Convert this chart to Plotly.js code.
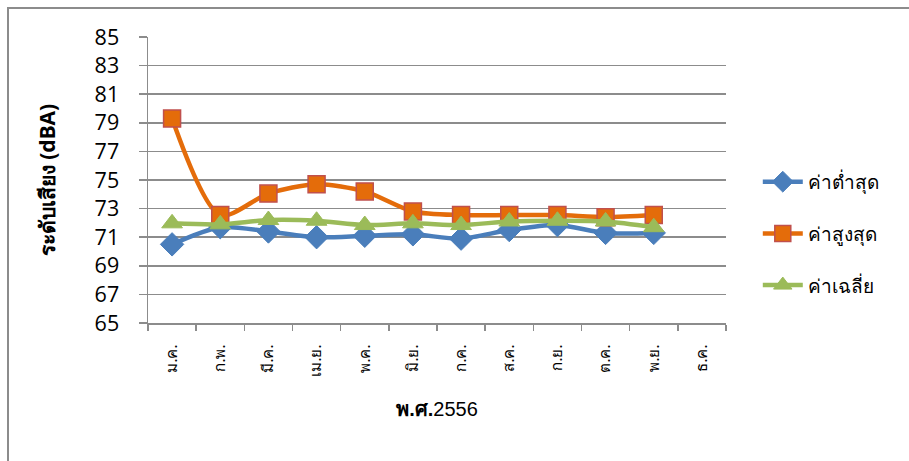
<!DOCTYPE html>
<html>
<head>
<meta charset="utf-8">
<script src="https://cdn.plot.ly/plotly-3.0.1.min.js"></script>
<style>
html,body{margin:0;padding:0;background:#fff;overflow:hidden;}
#frame{position:absolute;left:7px;top:7px;width:960px;height:520px;border:2px solid #8c8c8c;box-sizing:border-box;}
#chart{position:absolute;left:0;top:0;width:909px;height:461px;}
</style>
</head>
<body>
<div id="frame"></div>
<div id="chart"></div>
<script>
const months = ["ม.ค.","ก.พ.","มี.ค.","เม.ย.","พ.ค.","มิ.ย.","ก.ค.","ส.ค.","ก.ย.","ต.ค.","พ.ย.","ธ.ค."];
const minVals = [70.5, 71.7, 71.4, 71.0, 71.1, 71.2, 70.9, 71.5, 71.85, 71.3, 71.3, null];
const maxVals = [79.3, 72.55, 74.05, 74.7, 74.2, 72.8, 72.55, 72.55, 72.55, 72.4, 72.55, null];
const avgVals = [71.97, 71.9, 72.2, 72.15, 71.85, 71.97, 71.85, 72.1, 72.15, 72.1, 71.7, null];
const seriesNames = ["ค่าต่ำสุด","ค่าสูงสุด","ค่าเฉลี่ย"];
const yTitle = "<b>ระดับเสียง (dBA)</b>";
const xTitle = "<b>พ.ศ.</b>2556";

const traces = [
  {x: months, y: minVals, name: seriesNames[0], type:"scatter", mode:"lines+markers", legendgroup:"a",
   line:{color:"#4a7ebb", width:4.5, shape:"spline", smoothing:0.8},
   marker:{symbol:"diamond", size:18, color:"#4a7ebb", line:{color:"#4a7ebb", width:1}}},
  {x: months, y: maxVals, name: seriesNames[1], type:"scatter", mode:"lines+markers", legendgroup:"b",
   line:{color:"#e46c0a", width:4.5, shape:"spline", smoothing:0.8},
   marker:{symbol:"square", size:17, color:"#e46c0a", line:{color:"#c0504d", width:1.5}}},
  {x: months, y: avgVals, name: seriesNames[2], type:"scatter", mode:"lines+markers", legendgroup:"c",
   line:{color:"#9bbb59", width:4.5, shape:"spline", smoothing:0.8},
   marker:{symbol:"triangle-up", size:18, color:"#9bbb59", line:{color:"#9bbb59", width:1}}}
];

const layout = {
  width: 909, height: 461,
  paper_bgcolor: "rgba(0,0,0,0)", plot_bgcolor: "rgba(0,0,0,0)",
  margin: {l:148, r:183, t:37, b:138},
  showlegend: true,
  legend: {x:1.055, y:0.56, xanchor:"left", yanchor:"top", traceorder:"grouped", tracegroupgap:24,
           font:{family:"Noto Sans, Open Sans, sans-serif", size:19, color:"#000"}, itemwidth:40},
  xaxis: {
    type:"category", categoryorder:"array", categoryarray: months, range:[-0.5, 11.5],
    showgrid:false, showline:true, linecolor:"#8c8c8c", linewidth:1.5,
    ticks:"outside", tickson:"boundaries", ticklen:6, tickcolor:"#8c8c8c", tickwidth:1.5,
    tickangle:-90, ticklabelstandoff:14,
    tickfont:{family:"Noto Sans, sans-serif", size:15, color:"#000"},
    title:{text:xTitle, font:{family:"Liberation Sans, Arial, sans-serif", size:20, color:"#000"}, standoff:26},
    zeroline:false, fixedrange:true
  },
  yaxis: {
    range:[65,85], dtick:2, tick0:65,
    showgrid:true, gridcolor:"#8c8c8c", gridwidth:1.5,
    showline:true, linecolor:"#8c8c8c", linewidth:1.5,
    ticks:"outside", ticklen:8, tickcolor:"#8c8c8c", tickwidth:1.5, ticklabelstandoff:15,
    tickfont:{family:"Open Sans, sans-serif", size:21.5, color:"#000"},
    title:{text:yTitle, font:{family:"Noto Sans, Liberation Sans, sans-serif", size:21, color:"#000"}, standoff:33},
    zeroline:false, fixedrange:true
  }
};

Plotly.newPlot("chart", traces, layout, {displayModeBar:false, staticPlot:true});
</script>
</body>
</html>
